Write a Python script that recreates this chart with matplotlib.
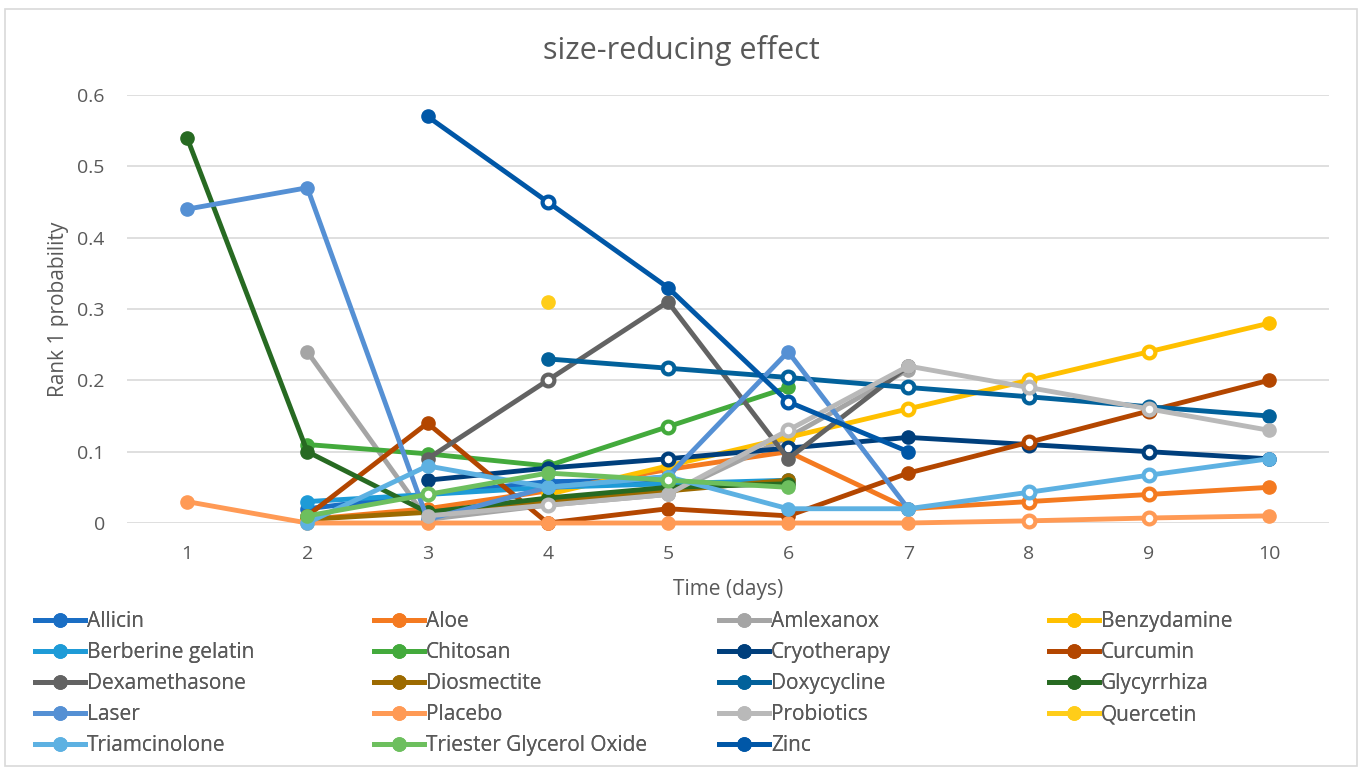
import numpy as np
import matplotlib
matplotlib.use("Agg")
import matplotlib.pyplot as plt
from matplotlib.lines import Line2D
from matplotlib.patches import Rectangle

plt.rcParams["font.family"] = ["Open Sans", "DejaVu Sans"]

nan = np.nan
days = [1, 2, 3, 4, 5, 6, 7, 8, 9, 10]

names = ["Allicin", "Aloe", "Amlexanox", "Benzydamine", "Berberine gelatin", "Chitosan",
         "Cryotherapy", "Curcumin", "Dexamethasone", "Diosmectite", "Doxycycline",
         "Glycyrrhiza", "Laser", "Placebo", "Probiotics", "Quercetin", "Triamcinolone",
         "Triester Glycerol Oxide", "Zinc"]

colors = ["#1A6EC4", "#F47A20", "#A5A5A5", "#FFC000", "#1E9BD7", "#43AA3C",
          "#003F7C", "#B34600", "#636363", "#9C6A00", "#02619B",
          "#276A22", "#5590D4", "#FF9A55", "#B9B9B9", "#FFCD19", "#5DB1E2",
          "#6DBF5E", "#0057A7"]

allicin = [nan, 0.02, 0.04, 0.058, 0.06, nan, nan, nan, nan, nan]
aloe = [nan, 0.005, 0.02, 0.045, 0.075, 0.10, 0.02, 0.03, 0.04, 0.05]
amlexanox = [nan, 0.24, 0.005, 0.025, 0.04, 0.12, 0.215, nan, nan, nan]
benzydamine = [nan, nan, nan, 0.04, 0.08, 0.12, 0.16, 0.20, 0.24, 0.28]
berberine = [nan, 0.03, 0.04, 0.05, 0.055, 0.06, nan, nan, nan, nan]
chitosan = [nan, 0.11, 0.097, 0.08, 0.135, 0.19, nan, nan, nan, nan]
cryotherapy = [nan, nan, 0.06, 0.077, 0.09, 0.105, 0.12, 0.11, 0.10, 0.09]
curcumin = [nan, 0.01, 0.14, 0.0, 0.02, 0.01, 0.07, 0.113, 0.157, 0.20]
dexamethasone = [nan, nan, 0.09, 0.20, 0.31, 0.09, 0.22, nan, nan, nan]
diosmectite = [nan, 0.005, 0.015, 0.03, 0.045, 0.06, nan, nan, nan, nan]
doxycycline = [nan, nan, nan, 0.23, 0.217, 0.204, 0.19, 0.177, 0.163, 0.15]
glycyrrhiza = [0.54, 0.10, 0.015, 0.035, 0.05, 0.055, nan, nan, nan, nan]
laser = [0.44, 0.47, 0.005, 0.05, 0.065, 0.24, 0.02, nan, nan, nan]
placebo = [0.03, 0.0, 0.0, 0.0, 0.0, 0.0, 0.0, 0.003, 0.007, 0.01]
probiotics = [nan, nan, 0.01, 0.025, 0.04, 0.13, 0.22, 0.19, 0.16, 0.13]
quercetin = [nan, nan, nan, 0.31, nan, nan, nan, nan, nan, nan]
triamcinolone = [nan, 0.0, 0.08, 0.05, 0.065, 0.02, 0.02, 0.043, 0.067, 0.09]
triester = [nan, 0.01, 0.04, 0.07, 0.06, 0.05, nan, nan, nan, nan]
zinc = [nan, nan, 0.57, 0.45, 0.33, 0.17, 0.10, nan, nan, nan]

series = [allicin, aloe, amlexanox, benzydamine, berberine, chitosan, cryotherapy,
          curcumin, dexamethasone, diosmectite, doxycycline, glycyrrhiza, laser,
          placebo, probiotics, quercetin, triamcinolone, triester, zinc]

# days drawn with a hollow (white centre) marker
hollow = {
    "Aloe": [8, 9],
    "Benzydamine": [7, 8, 9],
    "Chitosan": [5],
    "Cryotherapy": [5, 6, 8, 9],
    "Curcumin": [8, 9],
    "Dexamethasone": [4],
    "Doxycycline": [5, 6, 7, 8, 9],
    "Placebo": [8, 9],
    "Probiotics": [4, 6, 8, 9],
    "Triamcinolone": [8, 9],
    "Triester Glycerol Oxide": [3, 5],
    "Zinc": [4, 6],
}

grey = "#595959"
fig = plt.figure(figsize=(13.62, 7.69), dpi=100)
ax = fig.add_axes([127 / 1362, 1 - 523 / 769, 1202 / 1362, 428 / 769])

for i, (name, vals, col) in enumerate(zip(names, series, colors)):
    ax.plot(days, vals, color=col, lw=3.5, marker="o", ms=9.5, mfc=col, mec=col,
            solid_capstyle="round", zorder=3 + i, clip_on=False)
    hd = hollow.get(name, [])
    if hd:
        hv = [vals[d - 1] for d in hd]
        ax.plot(hd, hv, ls="none", marker="o", ms=8.5, mfc="white", mec=col, mew=3,
                zorder=3 + i, clip_on=False)

ax.set_xlim(0.5, 10.5)
ax.set_ylim(0, 0.6)
ax.set_yticks(np.arange(0, 0.61, 0.1))
ax.set_yticklabels(["0", "0.1", "0.2", "0.3", "0.4", "0.5", "0.6"])
ax.set_xticks(days)
ax.grid(axis="y", color="#D9D9D9", lw=1.2)
ax.set_axisbelow(True)
for s in ax.spines.values():
    s.set_visible(False)
ax.tick_params(length=0, labelsize=14, colors=grey)
ax.tick_params(axis="x", pad=16)
ax.tick_params(axis="y", pad=16)
ax.set_ylabel("Rank 1 probability", fontsize=15, color=grey, labelpad=6)
ax.set_xlabel("Time (days)", fontsize=15, color=grey, labelpad=11)
fig.text(0.5, 1 - 50 / 769, "size-reducing effect", ha="center", va="center",
         fontsize=22, color=grey)

# legend laid out row by row, four columns
col_x = [35 / 1362, 374 / 1362, 719 / 1362, 1049 / 1362]
for c in range(4):
    idx = list(range(c, len(names), 4))
    handles = [Line2D([], [], color=colors[k], lw=3.5, marker="o", ms=9.5) for k in idx]
    leg = fig.legend(handles, [names[k] for k in idx], loc="upper left",
                     bbox_to_anchor=(col_x[c], 1 - 611 / 769), frameon=False,
                     fontsize=15, labelcolor=grey, handlelength=2.4, handletextpad=0.1,
                     labelspacing=0.48, borderaxespad=0, borderpad=0)
    fig.add_artist(leg)

fig.add_artist(Rectangle((5 / 1362, 3 / 769), 1352 / 1362, 757 / 769,
                         transform=fig.transFigure, fill=False, ec="#D9D9D9", lw=1.2))

fig.savefig("out.png", dpi=100)
